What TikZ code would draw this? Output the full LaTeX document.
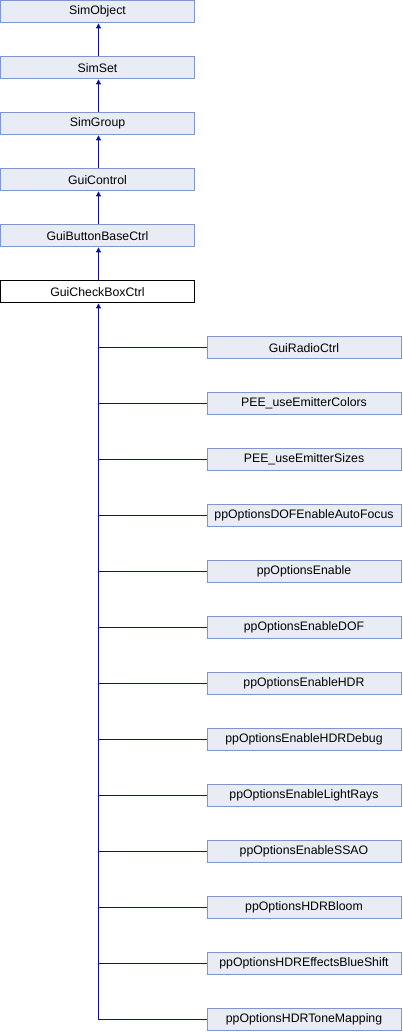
\documentclass[tikz,border=0pt]{standalone}
\usepackage{fontspec}
\setmainfont{Liberation Sans}
\usetikzlibrary{arrows.meta}
\definecolor{boxfill}{HTML}{E8ECF5}
\definecolor{boxline}{HTML}{7F95D0}
\definecolor{edgecol}{HTML}{10108C}
\tikzset{
  cls/.style={draw=boxline, fill=boxfill, line width=1pt, minimum width=194pt, minimum height=22.5pt, inner sep=0pt, font=\fontsize{12.3}{14}\selectfont},
  curcls/.style={cls, draw=black, fill=white},
  inh/.style={draw=edgecol, line width=1pt, -{Triangle[length=5pt,width=5pt]}},
  plain/.style={draw=edgecol, line width=1pt}
}
\begin{document}
\begin{tikzpicture}[x=1pt,y=1pt]
\useasboundingbox (0,0) rectangle (402,-1032);
\node[cls] (o) at (97.5,-11.7) {SimObject};
\node[cls] (s) at (97.5,-67.7) {SimSet};
\node[cls] (g) at (97.5,-123.7) {SimGroup};
\node[cls] (c) at (97.5,-179.7) {GuiControl};
\node[cls] (b) at (97.5,-235.7) {GuiButtonBaseCtrl};
\node[curcls] (x) at (97.5,-291.7) {GuiCheckBoxCtrl};
\draw[inh] (s.north -| 98.5,0) -- (o.south -| 98.5,0);
\draw[inh] (g.north -| 98.5,0) -- (s.south -| 98.5,0);
\draw[inh] (c.north -| 98.5,0) -- (g.south -| 98.5,0);
\draw[inh] (b.north -| 98.5,0) -- (c.south -| 98.5,0);
\draw[inh] (x.north -| 98.5,0) -- (b.south -| 98.5,0);
\foreach \name/\txt [count=\i from 0] in {
  r1/GuiRadioCtrl,
  r2/PEE\_useEmitterColors,
  r3/PEE\_useEmitterSizes,
  r4/ppOptionsDOFEnableAutoFocus,
  r5/ppOptionsEnable,
  r6/ppOptionsEnableDOF,
  r7/ppOptionsEnableHDR,
  r8/ppOptionsEnableHDRDebug,
  r9/ppOptionsEnableLightRays,
  r10/ppOptionsEnableSSAO,
  r11/ppOptionsHDRBloom,
  r12/ppOptionsHDREffectsBlueShift,
  r13/ppOptionsHDRToneMapping}{
  \node[cls] (\name) at (304,{-347.7-56*\i}) {\txt};
  \coordinate (j\name) at (98.5,{-347.7-56*\i});
  \draw[plain] (j\name) -- (\name.west);
}
\draw[inh] (jr13) -- (x.south -| 98.5,0);
\end{tikzpicture}
\end{document}
